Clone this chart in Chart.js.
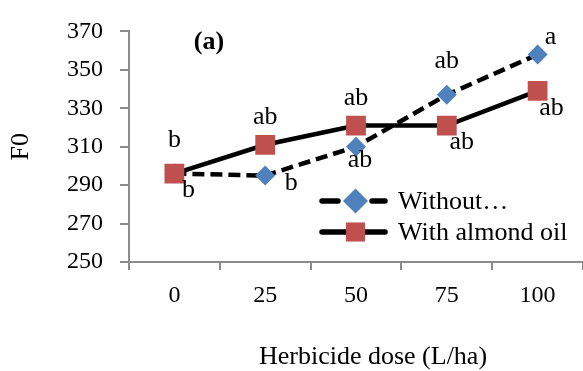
<!DOCTYPE html>
<html>
<head>
<meta charset="utf-8">
<script src="https://cdn.jsdelivr.net/npm/chart.js@4.4.0/dist/chart.umd.min.js"></script>
<style>
  html, body { margin: 0; padding: 0; background: #fff; }
  #wrap { width: 583px; height: 371px; }
</style>
</head>
<body>
<div id="wrap"><canvas id="chart" width="583" height="371"></canvas></div>
<script>
// F0 values per herbicide dose
const doses = ['0', '25', '50', '75', '100'];
const withoutOil = [296, 295, 310, 337, 358];
const withAlmondOil = [296, 311, 321, 321, 339];
const withoutLetters = ['b', 'b', 'ab', 'ab', 'a'];
const almondLetters = ['b', 'ab', 'ab', 'ab', 'ab'];
const yMin = 250, yMax = 370, yStep = 20;
const xTitle = 'Herbicide dose (L/ha)';

const serif = "'Liberation Serif', 'Times New Roman', serif";
const axisGrey = '#8c8c8c';

// offset of each letter from its marker (dx, dy)
const withoutLetterPos = [[14, 17], [26, 8], [4, 13], [0, -34], [13, -17]];
const almondLetterPos = [[0, -33], [0, -28], [0, -27], [15, 17], [14, 17]];

function marker(ctx, style, r, x, y) {
    ctx.beginPath();
    if (style === 'rectRot') {
        ctx.moveTo(x - r, y);
        ctx.lineTo(x, y - r);
        ctx.lineTo(x + r, y);
        ctx.lineTo(x, y + r);
    } else {
        const s = r * Math.SQRT1_2;
        ctx.rect(x - s, y - s, 2 * s, 2 * s);
    }
    ctx.closePath();
    ctx.fill();
}

// significance letters next to the markers, panel tag and x title
const letterPlugin = {
    id: 'letters',
    afterDatasetsDraw(chart) {
        const ctx = chart.ctx;
        ctx.save();
        ctx.font = '26px ' + serif;
        ctx.fillStyle = '#000';
        ctx.textAlign = 'center';
        ctx.textBaseline = 'middle';
        [[0, withoutLetters, withoutLetterPos], [1, almondLetters, almondLetterPos]].forEach(([i, letters, pos]) => {
            chart.getDatasetMeta(i).data.forEach((pt, j) => {
                ctx.fillText(letters[j], pt.x + pos[j][0], pt.y + pos[j][1]);
            });
        });
        // x title sits a bit right of the axis centre
        ctx.fillText(xTitle, 373, 357);
        ctx.font = 'bold 26px ' + serif;
        ctx.fillText('(a)', 209, 42);
        ctx.restore();
    }
};

// legend with line + marker samples, inside the plot
const legendPlugin = {
    id: 'innerLegend',
    afterDraw(chart) {
        const ctx = chart.ctx;
        const x0 = 320, x1 = 387, tx = 398;
        const rows = [201, 232];
        chart.data.datasets.forEach((ds, i) => {
            const y = rows[i];
            ctx.save();
            ctx.strokeStyle = ds.borderColor;
            ctx.lineWidth = ds.borderWidth + 1;
            ctx.lineCap = 'round';
            ctx.setLineDash(ds.borderDash ? [16, 34] : []);
            ctx.beginPath();
            ctx.moveTo(x0 + 2, y);
            ctx.lineTo(x1 - 2, y);
            ctx.stroke();
            ctx.setLineDash([]);
            ctx.fillStyle = ds.pointBackgroundColor;
            const r = ds.pointStyle === 'rectRot' ? 12.5 : 13.5;
            marker(ctx, ds.pointStyle, r, (x0 + x1) / 2 + 2, y);
            ctx.fillStyle = '#000';
            ctx.font = '26px ' + serif;
            ctx.textBaseline = 'middle';
            ctx.fillText(ds.label, tx, y + 1);
            ctx.restore();
        });
    }
};

const config = {
    type: 'line',
    data: {
        labels: doses,
        datasets: [{
            label: 'Without\u2026',
            data: withoutOil,
            borderColor: '#000',
            borderWidth: 4.5,
            borderDash: [12, 6],
            pointStyle: 'rectRot',
            pointRadius: 10,
            pointBackgroundColor: '#4f81bd',
            pointBorderColor: '#4f81bd',
            pointBorderWidth: 0,
            tension: 0,
            order: 1
        }, {
            label: 'With almond oil',
            data: withAlmondOil,
            borderColor: '#000',
            borderWidth: 4.5,
            pointStyle: 'rect',
            pointRadius: 14,
            pointBackgroundColor: '#c0504d',
            pointBorderColor: '#c0504d',
            pointBorderWidth: 0,
            tension: 0,
            order: 0
        }]
    },
    options: {
        responsive: false,
        animation: false,
        layout: { autoPadding: false, padding: { top: 29, left: 0, right: 0, bottom: 0 } },
        plugins: {
            legend: { display: false },
            tooltip: { enabled: false }
        },
        scales: {
            x: {
                offset: true,
                grid: { offset: true, drawOnChartArea: false, tickLength: 8, color: axisGrey, lineWidth: 2 },
                border: { color: axisGrey, width: 2 },
                ticks: { padding: 11, color: '#000', font: { family: serif, size: 24 } },
                afterFit(scale) {
                    scale.height = 109;
                    scale.paddingLeft = 0;
                    scale.paddingRight = 0;
                }
            },
            y: {
                min: yMin,
                max: yMax,
                grid: { drawOnChartArea: false, tickLength: 9, color: axisGrey, lineWidth: 2 },
                border: { color: axisGrey, width: 2 },
                ticks: { stepSize: yStep, padding: 17, color: '#000', font: { family: serif, size: 24 } },
                title: {
                    display: true,
                    text: 'F0',
                    color: '#000',
                    font: { family: serif, size: 26 },
                    padding: { top: 6, bottom: 0 }
                },
                afterFit(scale) { scale.width = 129; }
            }
        }
    },
    plugins: [letterPlugin, legendPlugin]
};

const chart = new Chart(document.getElementById('chart'), config);
</script>
</body>
</html>
